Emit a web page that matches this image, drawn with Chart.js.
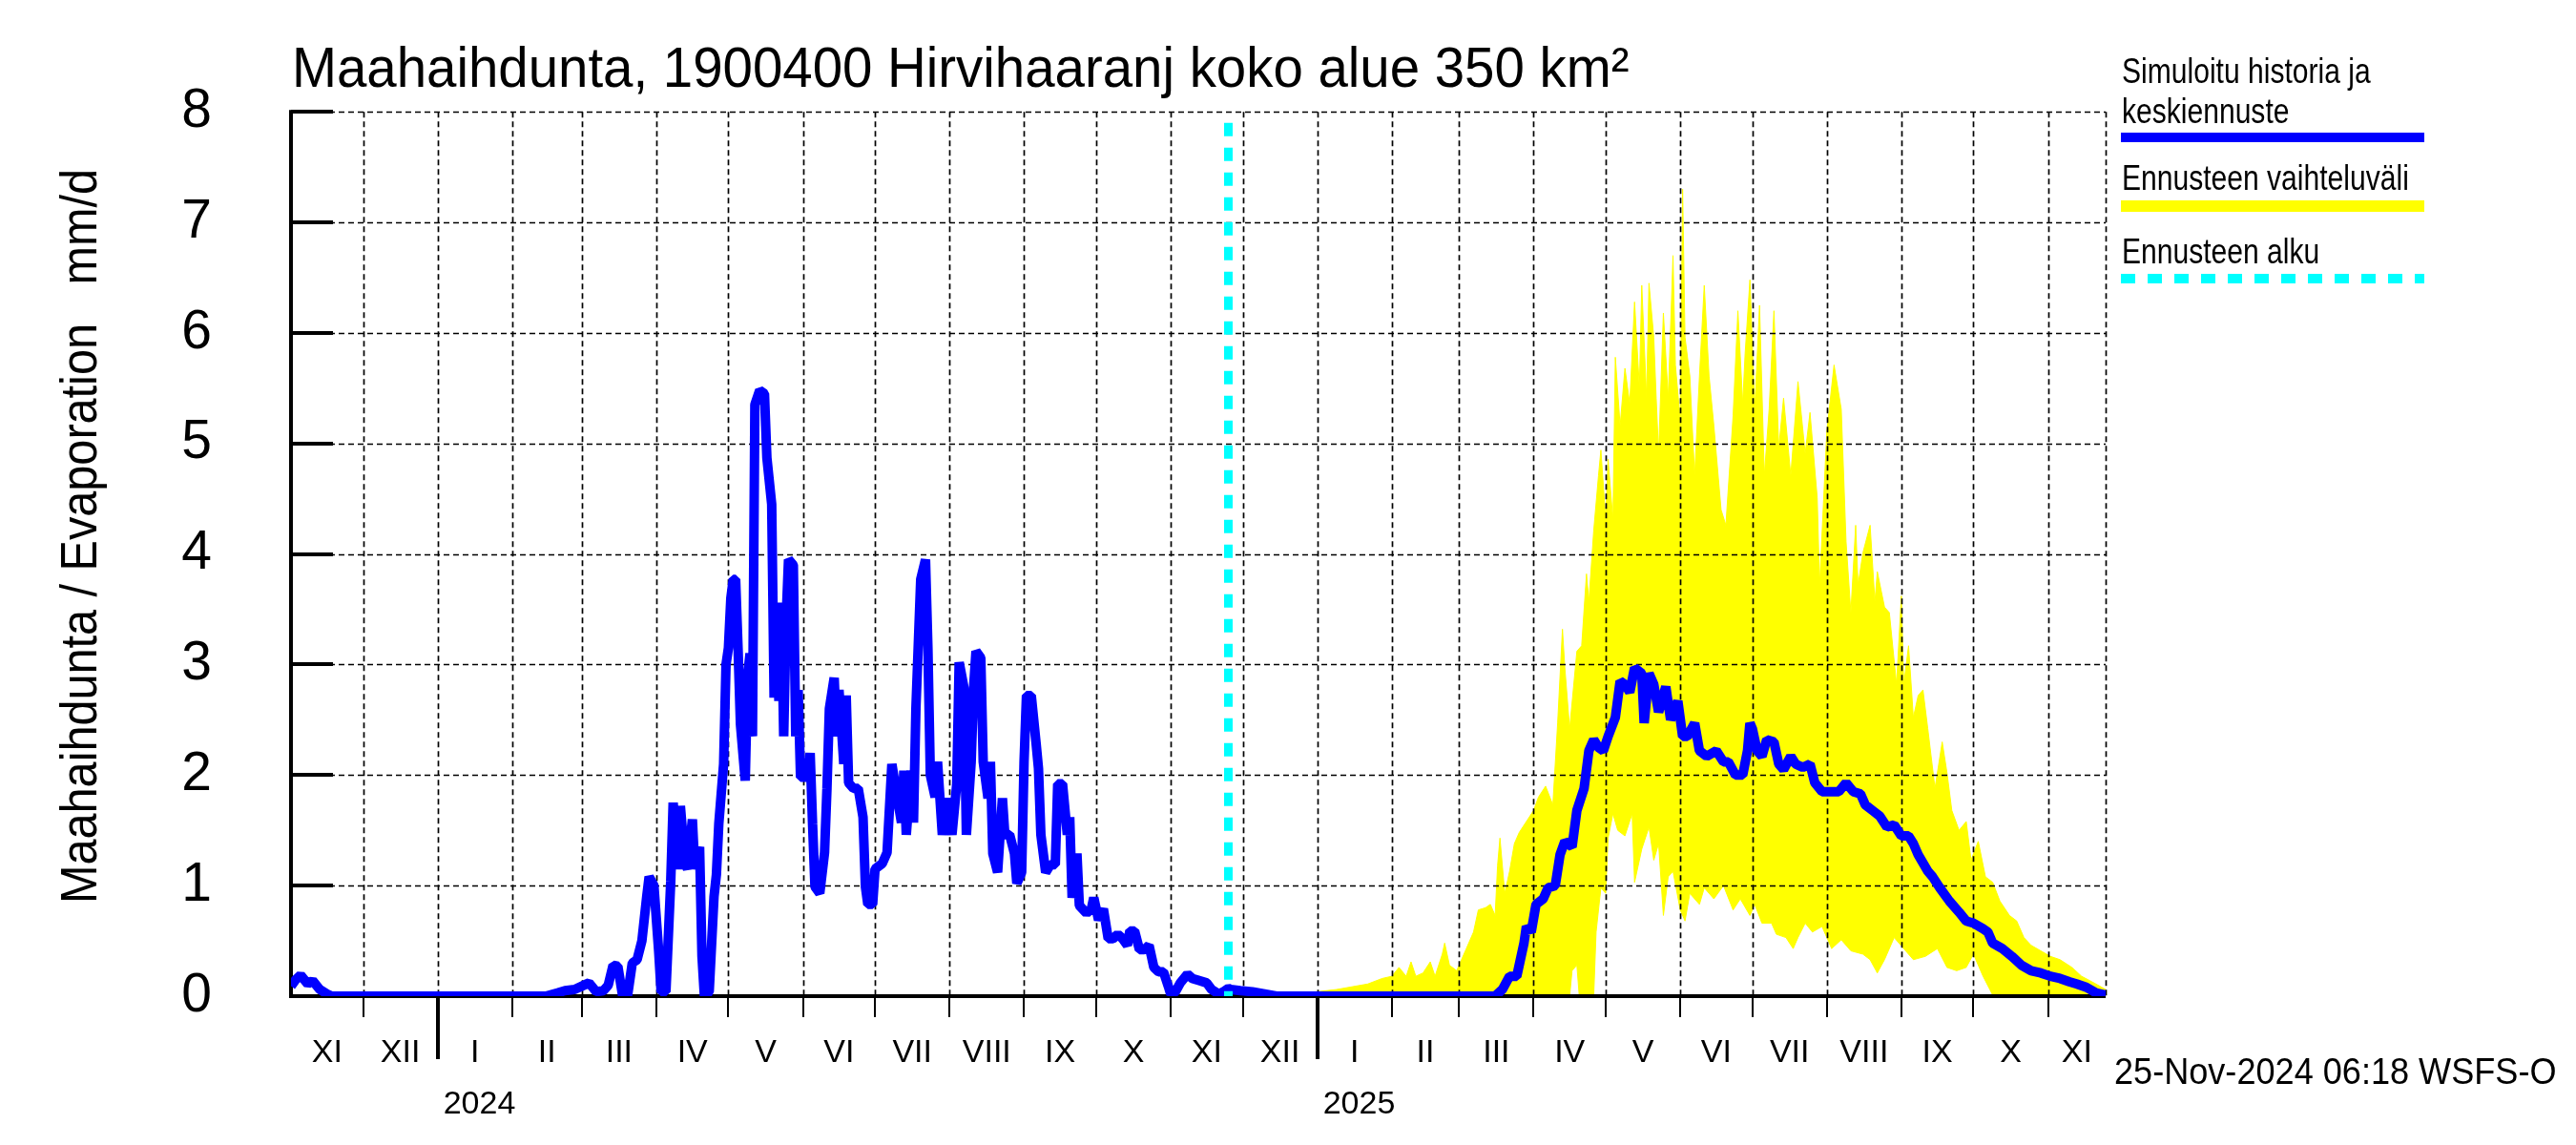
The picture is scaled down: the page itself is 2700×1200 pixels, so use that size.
<!DOCTYPE html>
<html>
<head>
<meta charset="utf-8">
<script src="https://cdn.jsdelivr.net/npm/chart.js@4.4.1/dist/chart.umd.min.js"></script>
<style>
  html, body { margin: 0; padding: 0; background: #fff; }
  #wrap { width: 2700px; height: 1200px; }
</style>
</head>
<body>
<div id="wrap"><canvas id="chart" width="2700" height="1200"></canvas></div>
<script>
// Axis range and labels
const startDate = '2023-11-01';
const endDate = '2025-11-25';
const forecastStart = '2024-11-25';
const monthNames = ['I', 'II', 'III', 'IV', 'V', 'VI', 'VII', 'VIII', 'IX', 'X', 'XI', 'XII'];
const yearLabels = ['2024', '2025'];
const yTicks = [0, 1, 2, 3, 4, 5, 6, 7, 8];

// Simulated history (mm/d)
const history = [
  ['2023-11-01', 0.09], ['2023-11-03', 0.15], ['2023-11-05', 0.19], ['2023-11-08', 0.11],
  ['2023-11-10', 0.14], ['2023-11-13', 0.06], ['2023-11-16', 0.02], ['2023-11-18', 0.0],
  ['2024-02-15', 0.0], ['2024-02-20', 0.03], ['2024-02-23', 0.05], ['2024-02-27', 0.06],
  ['2024-03-02', 0.1], ['2024-03-04', 0.12], ['2024-03-07', 0.04], ['2024-03-10', 0.05],
  ['2024-03-12', 0.1], ['2024-03-14', 0.28], ['2024-03-16', 0.27], ['2024-03-18', 0.0],
  ['2024-03-20', 0.0], ['2024-03-22', 0.3], ['2024-03-24', 0.33], ['2024-03-26', 0.5],
  ['2024-03-28', 0.9], ['2024-03-29', 1.08], ['2024-03-31', 1.0], ['2024-04-02', 0.4],
  ['2024-04-03', 0.04], ['2024-04-05', 0.04], ['2024-04-07', 1.04], ['2024-04-08', 1.75],
  ['2024-04-10', 1.15], ['2024-04-11', 1.72], ['2024-04-13', 1.2], ['2024-04-14', 1.15],
  ['2024-04-16', 1.6], ['2024-04-17', 1.15], ['2024-04-19', 1.35], ['2024-04-20', 0.36],
  ['2024-04-21', 0.0], ['2024-04-23', 0.04], ['2024-04-25', 0.9], ['2024-04-26', 1.1],
  ['2024-04-27', 1.56], ['2024-04-29', 2.1], ['2024-04-30', 3.0], ['2024-05-01', 3.15],
  ['2024-05-02', 3.6], ['2024-05-03', 3.77], ['2024-05-04', 3.77], ['2024-05-05', 3.15],
  ['2024-05-06', 2.46], ['2024-05-08', 1.95], ['2024-05-09', 2.9], ['2024-05-10', 3.1],
  ['2024-05-11', 2.35], ['2024-05-12', 5.35], ['2024-05-14', 5.48], ['2024-05-16', 5.45],
  ['2024-05-17', 4.87], ['2024-05-19', 4.45], ['2024-05-20', 2.7], ['2024-05-21', 3.5],
  ['2024-05-22', 2.67], ['2024-05-23', 3.56], ['2024-05-24', 2.35], ['2024-05-25', 3.4],
  ['2024-05-26', 3.95], ['2024-05-28', 3.9], ['2024-05-29', 2.35], ['2024-05-30', 2.77],
  ['2024-05-31', 1.98], ['2024-06-03', 1.98], ['2024-06-04', 2.2], ['2024-06-05', 1.56],
  ['2024-06-06', 0.99], ['2024-06-08', 0.93], ['2024-06-10', 1.3], ['2024-06-11', 1.88],
  ['2024-06-12', 2.6], ['2024-06-14', 2.88], ['2024-06-15', 2.35], ['2024-06-16', 2.77],
  ['2024-06-18', 2.1], ['2024-06-19', 2.72], ['2024-06-20', 1.93], ['2024-06-22', 1.88],
  ['2024-06-24', 1.88], ['2024-06-26', 1.62], ['2024-06-27', 0.99], ['2024-06-28', 0.83],
  ['2024-06-30', 0.83], ['2024-07-01', 1.15], ['2024-07-04', 1.2], ['2024-07-06', 1.3],
  ['2024-07-08', 2.1], ['2024-07-10', 1.83], ['2024-07-12', 1.57], ['2024-07-13', 2.04],
  ['2024-07-14', 1.46], ['2024-07-16', 2.04], ['2024-07-17', 1.57], ['2024-07-18', 2.6],
  ['2024-07-20', 3.77], ['2024-07-22', 3.95], ['2024-07-23', 3.15], ['2024-07-24', 2.0],
  ['2024-07-26', 1.8], ['2024-07-27', 2.12], ['2024-07-29', 1.46], ['2024-07-31', 1.79],
  ['2024-08-02', 1.46], ['2024-08-04', 1.92], ['2024-08-05', 3.02], ['2024-08-07', 2.79],
  ['2024-08-08', 1.46], ['2024-08-10', 2.12], ['2024-08-11', 2.79], ['2024-08-12', 3.12],
  ['2024-08-14', 3.06], ['2024-08-15', 2.12], ['2024-08-17', 1.79], ['2024-08-18', 2.12],
  ['2024-08-19', 1.29], ['2024-08-21', 1.12], ['2024-08-23', 1.79], ['2024-08-24', 1.46],
  ['2024-08-26', 1.46], ['2024-08-28', 1.29], ['2024-08-29', 1.02], ['2024-08-31', 1.12],
  ['2024-09-01', 2.12], ['2024-09-02', 2.72], ['2024-09-04', 2.72], ['2024-09-06', 2.29],
  ['2024-09-07', 2.06], ['2024-09-08', 1.46], ['2024-09-10', 1.12], ['2024-09-12', 1.19],
  ['2024-09-14', 1.19], ['2024-09-15', 1.92], ['2024-09-17', 1.92], ['2024-09-19', 1.46],
  ['2024-09-20', 1.62], ['2024-09-21', 0.89], ['2024-09-23', 1.29], ['2024-09-24', 0.82],
  ['2024-09-27', 0.75], ['2024-09-29', 0.79], ['2024-09-30', 0.89], ['2024-10-02', 0.69],
  ['2024-10-04', 0.79], ['2024-10-06', 0.52], ['2024-10-08', 0.52], ['2024-10-10', 0.56],
  ['2024-10-12', 0.52], ['2024-10-14', 0.46], ['2024-10-15', 0.59], ['2024-10-17', 0.59],
  ['2024-10-19', 0.42], ['2024-10-21', 0.42], ['2024-10-23', 0.46], ['2024-10-25', 0.26],
  ['2024-10-27', 0.22], ['2024-10-29', 0.22], ['2024-10-31', 0.09], ['2024-11-01', 0.02],
  ['2024-11-03', 0.04], ['2024-11-05', 0.12], ['2024-11-08', 0.2], ['2024-11-10', 0.16],
  ['2024-11-13', 0.14], ['2024-11-16', 0.12], ['2024-11-18', 0.06], ['2024-11-21', 0.02],
  ['2024-11-23', 0.04], ['2024-11-25', 0.07]
];

// Forecast mean
const forecastMean = [
  ['2024-11-26', 0.06], ['2024-11-30', 0.05], ['2024-12-05', 0.04], ['2024-12-10', 0.02],
  ['2024-12-15', 0.0], ['2025-03-16', 0.0], ['2025-03-19', 0.06], ['2025-03-22', 0.18],
  ['2025-03-25', 0.18], ['2025-03-28', 0.48], ['2025-03-29', 0.63], ['2025-03-31', 0.58],
  ['2025-04-02', 0.83], ['2025-04-05', 0.88], ['2025-04-07', 0.98], ['2025-04-10', 1.0],
  ['2025-04-12', 1.28], ['2025-04-14', 1.4], ['2025-04-17', 1.35], ['2025-04-19', 1.68],
  ['2025-04-22', 1.88], ['2025-04-24', 2.22], ['2025-04-26', 2.32], ['2025-04-28', 2.25],
  ['2025-04-30', 2.22], ['2025-05-02', 2.35], ['2025-05-05', 2.52], ['2025-05-07', 2.85],
  ['2025-05-09', 2.82], ['2025-05-11', 2.75], ['2025-05-13', 2.97], ['2025-05-16', 2.92],
  ['2025-05-17', 2.47], ['2025-05-19', 2.92], ['2025-05-21', 2.82], ['2025-05-23', 2.57],
  ['2025-05-26', 2.8], ['2025-05-28', 2.5], ['2025-05-31', 2.67], ['2025-06-02', 2.35],
  ['2025-06-04', 2.35], ['2025-06-07', 2.47], ['2025-06-09', 2.22], ['2025-06-12', 2.17],
  ['2025-06-16', 2.22], ['2025-06-19', 2.12], ['2025-06-21', 2.12], ['2025-06-24', 2.0],
  ['2025-06-27', 2.0], ['2025-06-29', 2.22], ['2025-06-30', 2.47], ['2025-07-01', 2.42],
  ['2025-07-03', 2.22], ['2025-07-05', 2.17], ['2025-07-07', 2.32], ['2025-07-10', 2.3],
  ['2025-07-12', 2.1], ['2025-07-14', 2.05], ['2025-07-17', 2.17], ['2025-07-19', 2.1],
  ['2025-07-22', 2.07], ['2025-07-25', 2.1], ['2025-07-27', 1.93], ['2025-07-30', 1.85],
  ['2025-08-02', 1.85], ['2025-08-06', 1.85], ['2025-08-09', 1.93], ['2025-08-12', 1.85],
  ['2025-08-15', 1.83], ['2025-08-17', 1.73], ['2025-08-20', 1.68], ['2025-08-23', 1.63],
  ['2025-08-26', 1.53], ['2025-08-29', 1.55], ['2025-09-01', 1.45], ['2025-09-04', 1.45],
  ['2025-09-06', 1.38], ['2025-09-08', 1.28], ['2025-09-12', 1.13], ['2025-09-14', 1.08],
  ['2025-09-17', 0.98], ['2025-09-21', 0.86], ['2025-09-25', 0.76], ['2025-09-28', 0.68],
  ['2025-10-01', 0.66], ['2025-10-05', 0.61], ['2025-10-07', 0.58], ['2025-10-09', 0.48],
  ['2025-10-13', 0.43], ['2025-10-17', 0.36], ['2025-10-21', 0.28], ['2025-10-25', 0.23],
  ['2025-10-29', 0.21], ['2025-11-02', 0.18], ['2025-11-06', 0.16], ['2025-11-10', 0.13],
  ['2025-11-13', 0.11], ['2025-11-17', 0.08], ['2025-11-21', 0.03], ['2025-11-25', 0.01]
];

// Forecast range, upper edge
const rangeHigh = [
  ['2024-11-25', 0.02], ['2024-12-15', 0.03], ['2025-01-01', 0.04], ['2025-01-09', 0.06],
  ['2025-01-22', 0.11], ['2025-01-28', 0.16], ['2025-02-01', 0.18], ['2025-02-04', 0.26],
  ['2025-02-07', 0.18], ['2025-02-09', 0.31], ['2025-02-11', 0.18], ['2025-02-14', 0.21],
  ['2025-02-17', 0.31], ['2025-02-19', 0.18], ['2025-02-22', 0.38], ['2025-02-23', 0.48],
  ['2025-02-25', 0.28], ['2025-02-28', 0.23], ['2025-03-02', 0.33], ['2025-03-04', 0.43],
  ['2025-03-07', 0.58], ['2025-03-09', 0.78], ['2025-03-12', 0.8], ['2025-03-14', 0.83],
  ['2025-03-16', 0.73], ['2025-03-17', 1.18], ['2025-03-18', 1.43], ['2025-03-20', 0.93],
  ['2025-03-22', 1.13], ['2025-03-24', 1.38], ['2025-03-26', 1.48], ['2025-03-29', 1.58],
  ['2025-04-01', 1.68], ['2025-04-03', 1.8], ['2025-04-06', 1.9], ['2025-04-09', 1.73],
  ['2025-04-11', 2.47], ['2025-04-13', 3.32], ['2025-04-14', 2.97], ['2025-04-16', 2.42],
  ['2025-04-19', 3.12], ['2025-04-21', 3.17], ['2025-04-23', 3.82], ['2025-04-24', 3.57],
  ['2025-04-26', 4.21], ['2025-04-28', 4.71], ['2025-04-29', 4.94], ['2025-05-01', 4.31],
  ['2025-05-02', 4.86], ['2025-05-04', 4.31], ['2025-05-05', 5.78], ['2025-05-07', 5.16],
  ['2025-05-09', 5.68], ['2025-05-11', 5.36], ['2025-05-13', 6.28], ['2025-05-15', 5.51],
  ['2025-05-16', 6.43], ['2025-05-18', 5.41], ['2025-05-19', 6.45], ['2025-05-21', 5.96],
  ['2025-05-22', 5.41], ['2025-05-23', 4.91], ['2025-05-25', 6.18], ['2025-05-27', 5.41],
  ['2025-05-29', 6.7], ['2025-05-30', 5.71], ['2025-06-01', 5.21], ['2025-06-02', 7.3],
  ['2025-06-03', 5.96], ['2025-06-05', 5.61], ['2025-06-07', 4.71], ['2025-06-09', 5.61],
  ['2025-06-11', 6.43], ['2025-06-13', 5.61], ['2025-06-15', 5.16], ['2025-06-18', 4.4],
  ['2025-06-20', 4.26], ['2025-06-23', 5.25], ['2025-06-25', 6.2], ['2025-06-27', 5.36],
  ['2025-06-28', 5.81], ['2025-06-30', 6.48], ['2025-07-02', 5.31], ['2025-07-04', 6.25],
  ['2025-07-06', 4.71], ['2025-07-08', 5.31], ['2025-07-10', 6.2], ['2025-07-12', 4.96],
  ['2025-07-14', 5.41], ['2025-07-17', 4.71], ['2025-07-20', 5.56], ['2025-07-23', 4.91],
  ['2025-07-25', 5.28], ['2025-07-28', 4.51], ['2025-07-29', 3.72], ['2025-08-01', 5.11],
  ['2025-08-04', 5.71], ['2025-08-07', 5.31], ['2025-08-09', 4.11], ['2025-08-11', 3.47],
  ['2025-08-13', 4.26], ['2025-08-14', 3.72], ['2025-08-16', 4.01], ['2025-08-19', 4.26],
  ['2025-08-21', 3.57], ['2025-08-22', 3.84], ['2025-08-25', 3.52], ['2025-08-27', 3.47],
  ['2025-08-30', 2.82], ['2025-09-01', 3.62], ['2025-09-02', 2.82], ['2025-09-04', 3.17],
  ['2025-09-06', 2.52], ['2025-09-08', 2.72], ['2025-09-10', 2.77], ['2025-09-12', 2.42],
  ['2025-09-15', 1.88], ['2025-09-18', 2.3], ['2025-09-20', 2.02], ['2025-09-22', 1.68],
  ['2025-09-25', 1.5], ['2025-09-28', 1.58], ['2025-09-30', 1.23], ['2025-10-03', 1.4],
  ['2025-10-06', 1.08], ['2025-10-09', 1.03], ['2025-10-12', 0.86], ['2025-10-16', 0.73],
  ['2025-10-19', 0.68], ['2025-10-22', 0.53], ['2025-10-25', 0.46], ['2025-10-29', 0.41],
  ['2025-11-02', 0.36], ['2025-11-06', 0.33], ['2025-11-11', 0.26], ['2025-11-15', 0.18],
  ['2025-11-21', 0.11], ['2025-11-25', 0.06]
];

// Forecast range, lower edge
const rangeLow = [
  ['2024-11-25', 0.0], ['2025-04-16', 0.0], ['2025-04-17', 0.23], ['2025-04-19', 0.28],
  ['2025-04-20', 0.0], ['2025-04-26', 0.0], ['2025-04-27', 0.58], ['2025-04-29', 0.98],
  ['2025-05-01', 0.93], ['2025-05-02', 1.43], ['2025-05-04', 1.65], ['2025-05-06', 1.5],
  ['2025-05-09', 1.45], ['2025-05-12', 1.65], ['2025-05-13', 1.03], ['2025-05-16', 1.33],
  ['2025-05-19', 1.53], ['2025-05-21', 1.23], ['2025-05-23', 1.38], ['2025-05-25', 0.73],
  ['2025-05-27', 1.08], ['2025-05-29', 1.13], ['2025-06-01', 0.78], ['2025-06-03', 0.68],
  ['2025-06-05', 0.93], ['2025-06-09', 0.83], ['2025-06-11', 0.98], ['2025-06-15', 0.88],
  ['2025-06-19', 1.0], ['2025-06-23', 0.78], ['2025-06-26', 0.88], ['2025-06-30', 0.73],
  ['2025-07-02', 0.83], ['2025-07-05', 0.66], ['2025-07-09', 0.66], ['2025-07-11', 0.56],
  ['2025-07-15', 0.53], ['2025-07-18', 0.43], ['2025-07-20', 0.53], ['2025-07-23', 0.66],
  ['2025-07-26', 0.58], ['2025-07-30', 0.63], ['2025-08-03', 0.43], ['2025-08-07', 0.51],
  ['2025-08-11', 0.41], ['2025-08-16', 0.38], ['2025-08-19', 0.33], ['2025-08-22', 0.21],
  ['2025-08-25', 0.33], ['2025-08-29', 0.53], ['2025-09-02', 0.43], ['2025-09-06', 0.33],
  ['2025-09-11', 0.36], ['2025-09-16', 0.43], ['2025-09-20', 0.26], ['2025-09-24', 0.23],
  ['2025-09-28', 0.26], ['2025-10-01', 0.38], ['2025-10-05', 0.18], ['2025-10-09', 0.01],
  ['2025-10-13', 0.0], ['2025-11-25', 0.0]
];

const FONT = "'Liberation Sans', Arial, sans-serif";
const BLUE = '#0000ff';
const YELLOW = '#ffff00';
const CYAN = '#00ffff';

function toTime(s) {
  return Date.UTC(+s.slice(0, 4), +s.slice(5, 7) - 1, +s.slice(8, 10));
}

function toPoints(series) {
  return series.map(([d, v]) => ({ x: toTime(d), y: v }));
}

// Month boundaries inside the shown range
function monthStarts() {
  const list = [];
  const s = new Date(toTime(startDate));
  let y = s.getUTCFullYear(), m = s.getUTCMonth();
  const end = toTime(endDate);
  while (Date.UTC(y, m, 1) < end) {
    list.push({ t: Date.UTC(y, m, 1), next: Date.UTC(y, m + 1, 1), month: m, year: y });
    m++;
    if (m > 11) { m = 0; y++; }
  }
  return list;
}

// Text squeezed horizontally, the reference uses a narrow face
function narrowText(ctx, text, x, y, size, squeeze) {
  ctx.save();
  ctx.translate(x, y);
  ctx.scale(squeeze, 1);
  ctx.font = `${size}px ${FONT}`;
  ctx.fillText(text, 0, 0);
  ctx.restore();
}

/**
 * Grid, axes, labels and legend in the style of the reference plot
 */
const framePlugin = {
  id: 'frame',
  beforeDatasetDraw(chart, args) {
    // grid goes over the yellow range but under the blue line
    if (args.index !== 0) return;
    const { ctx, chartArea: a, scales: { x, y } } = chart;
    const months = monthStarts();

    ctx.save();
    ctx.strokeStyle = '#000';
    ctx.lineWidth = 1.7;
    ctx.setLineDash([6, 4]);
    ctx.beginPath();
    yTicks.forEach(v => {
      if (v === 0) return;
      const py = Math.round(y.getPixelForValue(v)) + 0.5;
      ctx.moveTo(a.left, py);
      ctx.lineTo(a.right, py);
    });
    months.forEach(mo => {
      if (mo.t <= x.min) return;
      const px = Math.round(x.getPixelForValue(mo.t)) + 0.5;
      ctx.moveTo(px, a.top);
      ctx.lineTo(px, a.bottom);
    });
    ctx.moveTo(a.right + 0.5, a.top);
    ctx.lineTo(a.right + 0.5, a.bottom);
    ctx.stroke();
    ctx.setLineDash([]);

    // solid axes
    ctx.lineWidth = 4;
    ctx.beginPath();
    ctx.moveTo(a.left, a.top - 2);
    ctx.lineTo(a.left, a.bottom + 2);
    ctx.moveTo(a.left - 2, a.bottom);
    ctx.lineTo(a.right, a.bottom);
    ctx.stroke();

    // inward y ticks
    ctx.beginPath();
    yTicks.forEach(v => {
      if (v === 0) return;
      const py = Math.round(y.getPixelForValue(v));
      ctx.moveTo(a.left, py);
      ctx.lineTo(a.left + 44, py);
    });
    ctx.stroke();

    // month and year ticks below the axis
    ctx.lineWidth = 2;
    ctx.beginPath();
    months.forEach(mo => {
      if (mo.t <= x.min || mo.month === 0) return;
      const px = Math.round(x.getPixelForValue(mo.t));
      ctx.moveTo(px, a.bottom);
      ctx.lineTo(px, a.bottom + 22);
    });
    ctx.stroke();
    ctx.lineWidth = 4;
    ctx.beginPath();
    months.forEach(mo => {
      if (mo.month !== 0) return;
      const px = Math.round(x.getPixelForValue(mo.t));
      ctx.moveTo(px, a.bottom);
      ctx.lineTo(px, a.bottom + 66);
    });
    ctx.stroke();
    ctx.restore();
  },
  afterDraw(chart) {
    const { ctx, scales: { x } } = chart;
    const months = monthStarts();
    ctx.save();
    ctx.fillStyle = '#000';

    // month labels
    ctx.font = `34px ${FONT}`;
    ctx.textAlign = 'center';
    ctx.textBaseline = 'middle';
    months.forEach(mo => {
      const l = x.getPixelForValue(Math.max(mo.t, x.min));
      const r = x.getPixelForValue(Math.min(mo.next, x.max));
      ctx.fillText(monthNames[mo.month], (l + r) / 2, 1104);
    });

    // year labels
    ctx.textAlign = 'left';
    let yi = 0;
    months.forEach(mo => {
      if (mo.month !== 0 || yi >= yearLabels.length) return;
      ctx.fillText(yearLabels[yi++], x.getPixelForValue(mo.t) + 6, 1158);
    });

    // title
    ctx.textBaseline = 'alphabetic';
    narrowText(ctx, 'Maahaihdunta, 1900400 Hirvihaaranj koko alue 350 km²', 306, 91, 60, 0.94);

    // y axis title
    ctx.save();
    ctx.translate(86, 562);
    ctx.rotate(-Math.PI / 2);
    ctx.textAlign = 'center';
    ctx.textBaseline = 'middle';
    narrowText(ctx, 'Maahaihdunta / Evaporation   mm/d', 0, 0, 54, 0.9);
    ctx.restore();

    // legend
    narrowText(ctx, 'Simuloitu historia ja', 2224, 87, 36, 0.835);
    narrowText(ctx, 'keskiennuste', 2224, 129, 36, 0.835);
    narrowText(ctx, 'Ennusteen vaihteluväli', 2224, 199, 36, 0.835);
    narrowText(ctx, 'Ennusteen alku', 2224, 276, 36, 0.835);
    ctx.fillStyle = BLUE;
    ctx.fillRect(2223, 139, 318, 10);
    ctx.fillStyle = YELLOW;
    ctx.fillRect(2223, 210, 318, 12);
    ctx.strokeStyle = CYAN;
    ctx.lineWidth = 10;
    ctx.setLineDash([15, 13]);
    ctx.beginPath();
    ctx.moveTo(2223, 292);
    ctx.lineTo(2541, 292);
    ctx.stroke();
    ctx.setLineDash([]);

    // timestamp
    ctx.fillStyle = '#000';
    narrowText(ctx, '25-Nov-2024 06:18 WSFS-O', 2216, 1136, 38, 0.95);
    ctx.restore();
  }
};

const ctx = document.getElementById('chart').getContext('2d');
new Chart(ctx, {
  type: 'line',
  data: {
    datasets: [
      {
        label: 'Simuloitu historia ja keskiennuste',
        data: toPoints(history.concat(forecastMean)),
        borderColor: BLUE,
        borderWidth: 10,
        borderJoinStyle: 'bevel',
        pointRadius: 0,
        fill: false,
        order: 1
      },
      {
        label: 'Ennusteen alku',
        data: [{ x: toTime(forecastStart), y: 7.9 }, { x: toTime(forecastStart), y: 0 }],
        borderColor: CYAN,
        borderWidth: 9,
        borderDash: [14, 12],
        pointRadius: 0,
        fill: false,
        order: 0
      },
      {
        label: 'Ennusteen vaihteluväli',
        data: toPoints(rangeHigh),
        borderColor: YELLOW,
        backgroundColor: YELLOW,
        borderWidth: 1,
        pointRadius: 0,
        fill: '+1',
        order: 3
      },
      {
        label: 'range low',
        data: toPoints(rangeLow),
        borderColor: YELLOW,
        borderWidth: 1,
        pointRadius: 0,
        fill: false,
        order: 4
      }
    ]
  },
  options: {
    responsive: false,
    devicePixelRatio: 1,
    animation: false,
    parsing: false,
    layout: { padding: { top: 116, right: 493, bottom: 156, left: 0 } },
    plugins: {
      legend: { display: false },
      tooltip: { enabled: false }
    },
    scales: {
      x: {
        type: 'linear',
        min: toTime(startDate),
        max: toTime(endDate),
        display: false
      },
      y: {
        min: 0,
        max: 8,
        afterFit(scale) { scale.width = 305; },
        afterBuildTicks(scale) { scale.ticks = yTicks.map(v => ({ value: v })); },
        grid: { display: false, drawTicks: false },
        border: { display: false },
        ticks: {
          color: '#000',
          padding: 83,
          font: { family: FONT, size: 57 }
        }
      }
    }
  },
  plugins: [framePlugin]
});
</script>
</body>
</html>
